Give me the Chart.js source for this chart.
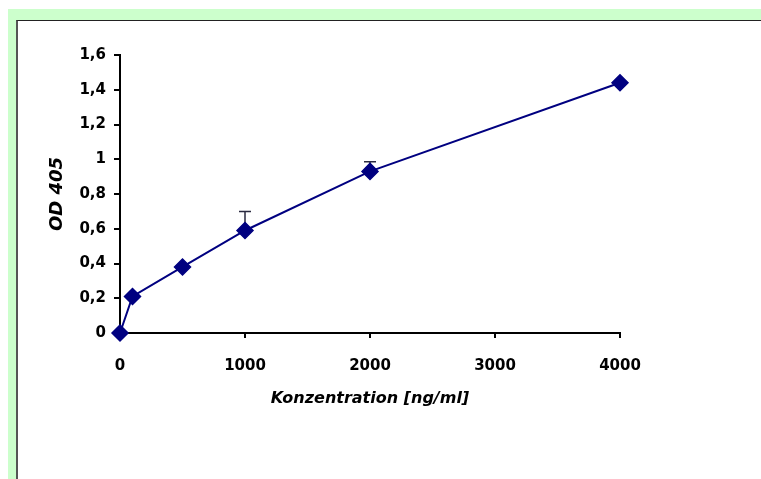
<!DOCTYPE html>
<html>
<head>
<meta charset="utf-8">
<script src="https://cdn.jsdelivr.net/npm/chart.js@4.4.1/dist/chart.umd.min.js"></script>
<style>
  html, body { margin: 0; padding: 0; background: #ffffff; width: 761px; height: 479px; overflow: hidden; }
  #green { position: absolute; left: 8px; top: 9px; right: 0; bottom: 0; background: #ccffcc; }
  #inner { position: absolute; left: 16px; top: 20px; right: 0; bottom: 0; background: #ffffff;
           border-left: 2px solid #555555; border-top: 1px solid #222222; }
  #wrap { position: absolute; left: 0; top: 0; width: 761px; height: 479px; }
</style>
</head>
<body>
<div id="green"></div>
<div id="inner"></div>
<div id="wrap"><canvas id="c" width="761" height="479"></canvas></div>
<script>
// Data
const concentrations = [0, 100, 500, 1000, 2000, 4000];   // ng/ml
const od405 = [0, 0.21, 0.38, 0.59, 0.93, 1.44];
const errorPlus = [0, 0, 0, 0.11, 0.055, 0];
const xTickValues = [0, 1000, 2000, 3000, 4000];
const xTickLabels = ['0', '1000', '2000', '3000', '4000'];
const yTickValues = [0, 0.2, 0.4, 0.6, 0.8, 1, 1.2, 1.4, 1.6];
const yTickLabels = ['0', '0,2', '0,4', '0,6', '0,8', '1', '1,2', '1,4', '1,6'];
const xTitle = 'Konzentration [ng/ml]';
const yTitle = 'OD 405';

const points = concentrations.map((c, i) => ({ x: c, y: od405[i] }));

const errorBars = {
  id: 'errorBars',
  beforeDatasetsDraw(chart) {
    const ctx = chart.ctx;
    const xs = chart.scales.x, ys = chart.scales.y;
    ctx.save();
    ctx.strokeStyle = '#2a2a40';
    ctx.lineWidth = 1.5;
    concentrations.forEach((c, i) => {
      if (!errorPlus[i]) return;
      const px = xs.getPixelForValue(c);
      const py0 = ys.getPixelForValue(od405[i]);
      const py1 = ys.getPixelForValue(od405[i] + errorPlus[i]);
      ctx.beginPath();
      ctx.moveTo(px, py0);
      ctx.lineTo(px, py1);
      ctx.moveTo(px - 6, py1);
      ctx.lineTo(px + 6, py1);
      ctx.stroke();
    });
    ctx.restore();
  }
};

new Chart(document.getElementById('c'), {
  type: 'scatter',
  data: {
    datasets: [{
      data: points,
      showLine: true,
      clip: false,
      borderColor: '#000080',
      backgroundColor: '#000080',
      borderWidth: 2,
      tension: 0,
      pointStyle: 'rectRot',
      pointRadius: 8,
      pointBorderWidth: 1.5,
      pointBorderColor: '#000080',
      pointBackgroundColor: '#000080'
    }]
  },
  options: {
    responsive: false,
    animation: false,
    events: [],
    plugins: { legend: { display: false }, tooltip: { enabled: false } },
    layout: { padding: { left: 43, top: 55, right: 141, bottom: 67 } },
    scales: {
      x: {
        type: 'linear',
        min: 0, max: 4000,
        afterBuildTicks(scale) { scale.ticks = xTickValues.map(v => ({ value: v })); },
        afterFit(scale) { scale.height = 79; },
        ticks: {
          color: '#000000',
          padding: 19,
          font: { family: 'DejaVu Sans', size: 15, weight: 'bold' },
          callback(value) { const i = xTickValues.indexOf(value); return i >= 0 ? xTickLabels[i] : ''; }
        },
        grid: { drawOnChartArea: false, drawTicks: true, tickLength: 5, color: '#000000', lineWidth: 2 },
        border: { display: true, color: '#000000', width: 2 },
        title: {
          display: true, text: xTitle, color: '#000000',
          font: { family: 'DejaVu Sans', size: 16, weight: 'bold', style: 'italic' },
          padding: { top: 4, bottom: 4 }
        }
      },
      y: {
        type: 'linear',
        min: 0, max: 1.6,
        afterBuildTicks(scale) { scale.ticks = yTickValues.map(v => ({ value: v })); },
        afterFit(scale) { scale.width = 77; },
        ticks: {
          color: '#000000',
          padding: 8,
          font: { family: 'DejaVu Sans', size: 15, weight: 'bold' },
          callback(value) {
            const i = yTickValues.findIndex(v => Math.abs(v - value) < 1e-9);
            return i >= 0 ? yTickLabels[i] : '';
          }
        },
        grid: { drawOnChartArea: false, drawTicks: true, tickLength: 6, color: '#000000', lineWidth: 2 },
        border: { display: true, color: '#000000', width: 2 },
        title: {
          display: true, text: yTitle, color: '#000000',
          font: { family: 'DejaVu Sans', size: 18, weight: 'bold', style: 'italic' },
          padding: { top: 4, bottom: 4 }
        }
      }
    }
  },
  plugins: [errorBars]
});
</script>
</body>
</html>
